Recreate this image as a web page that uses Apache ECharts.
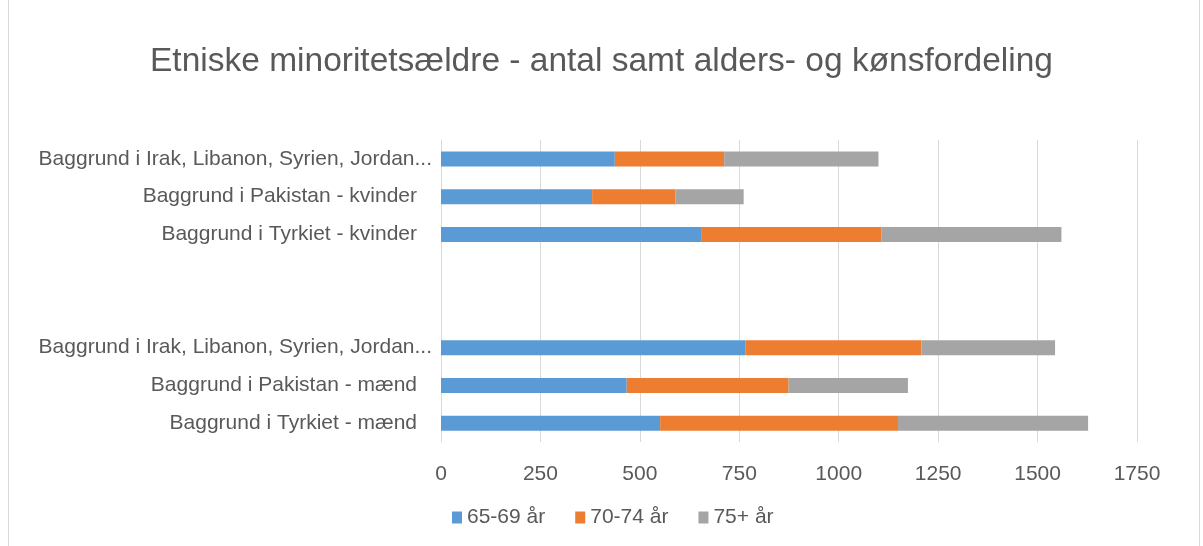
<!DOCTYPE html>
<html lang="da">
<head>
    <meta charset="UTF-8">
    <title>Etniske minoritetsældre</title>
    <script src="https://cdn.jsdelivr.net/npm/echarts@6/dist/echarts.min.js"></script>
    <style>
        body, html {
            margin: 0;
            padding: 0;
            background-color: #ffffff;
        }
        #chart {
            width: 1203px;
            height: 546px;
        }
    </style>
</head>
<body>
    <div id="chart"></div>
    <script>
        // categories from bottom to top (two empty rows separate men and women)
        const categories = [
            'Baggrund i Tyrkiet - mænd',
            'Baggrund i Pakistan - mænd',
            'Baggrund i Irak, Libanon, Syrien, Jordan...',
            '',
            ' ',
            'Baggrund i Tyrkiet - kvinder',
            'Baggrund i Pakistan - kvinder',
            'Baggrund i Irak, Libanon, Syrien, Jordan...'
        ];
        const seriesNames = ['65-69 år', '70-74 år', '75+ år'];
        const age6569 = [551, 467, 765, '-', '-', 654, 380, 437];
        const age7074 = [598, 407, 443, '-', '-', 454, 209, 275];
        const age75plus = [478, 300, 336, '-', '-', 452, 172, 388];
        const xTicks = { min: 0, max: 1750, interval: 250 };

        const colors = ['#5b9bd5', '#ed7d31', '#a5a5a5'];
        const textColor = '#595959';
        const font = 'Liberation Sans';

        const chart = echarts.init(document.getElementById('chart'));

        const option = {
            animation: false,
            textStyle: { fontFamily: font },
            title: {
                text: 'Etniske minoritetsældre - antal samt alders- og kønsfordeling',
                left: 'center',
                top: 40,
                textStyle: { color: textColor, fontSize: 33.5, fontWeight: 'normal', fontFamily: font }
            },
            legend: {
                bottom: 13,
                left: 447,
                itemWidth: 10,
                itemHeight: 12,
                itemGap: 30,
                icon: 'rect',
                textStyle: { color: textColor, fontSize: 21, fontFamily: font },
                data: seriesNames
            },
            grid: {
                left: 441,
                right: 66,
                top: 140,
                bottom: 104,
                containLabel: false
            },
            xAxis: {
                type: 'value',
                min: xTicks.min,
                max: xTicks.max,
                interval: xTicks.interval,
                axisLine: { show: false },
                axisTick: { show: false },
                axisLabel: {
                    color: textColor,
                    fontSize: 21,
                    margin: 22,
                    formatter: function (v) { return String(v); }
                },
                splitLine: { lineStyle: { color: '#d9d9d9', width: 1 } }
            },
            yAxis: {
                type: 'category',
                data: categories,
                axisLine: { show: true, lineStyle: { color: '#d9d9d9' } },
                axisTick: { show: false },
                axisLabel: {
                    color: textColor,
                    fontSize: 21,
                    margin: 9,
                    formatter: function (v) {
                        return v.endsWith('...') ? '{l|' + v + '}' : '{s|' + v + '}';
                    },
                    rich: {
                        l: { color: textColor, fontSize: 21, fontFamily: font },
                        s: { color: textColor, fontSize: 21, fontFamily: font, padding: [0, 15, 0, 0] }
                    }
                }
            },
            series: [age6569, age7074, age75plus].map(function (d, i) {
                return {
                    name: seriesNames[i],
                    type: 'bar',
                    stack: 'total',
                    barWidth: 15,
                    itemStyle: { color: colors[i] },
                    data: d
                };
            }),
            graphic: [{
                type: 'rect',
                shape: { x: 8.5, y: -1, width: 1191, height: 548 },
                style: { fill: 'none', stroke: '#d9d9d9', lineWidth: 1 },
                silent: true
            }]
        };

        chart.setOption(option);
    </script>
</body>
</html>
